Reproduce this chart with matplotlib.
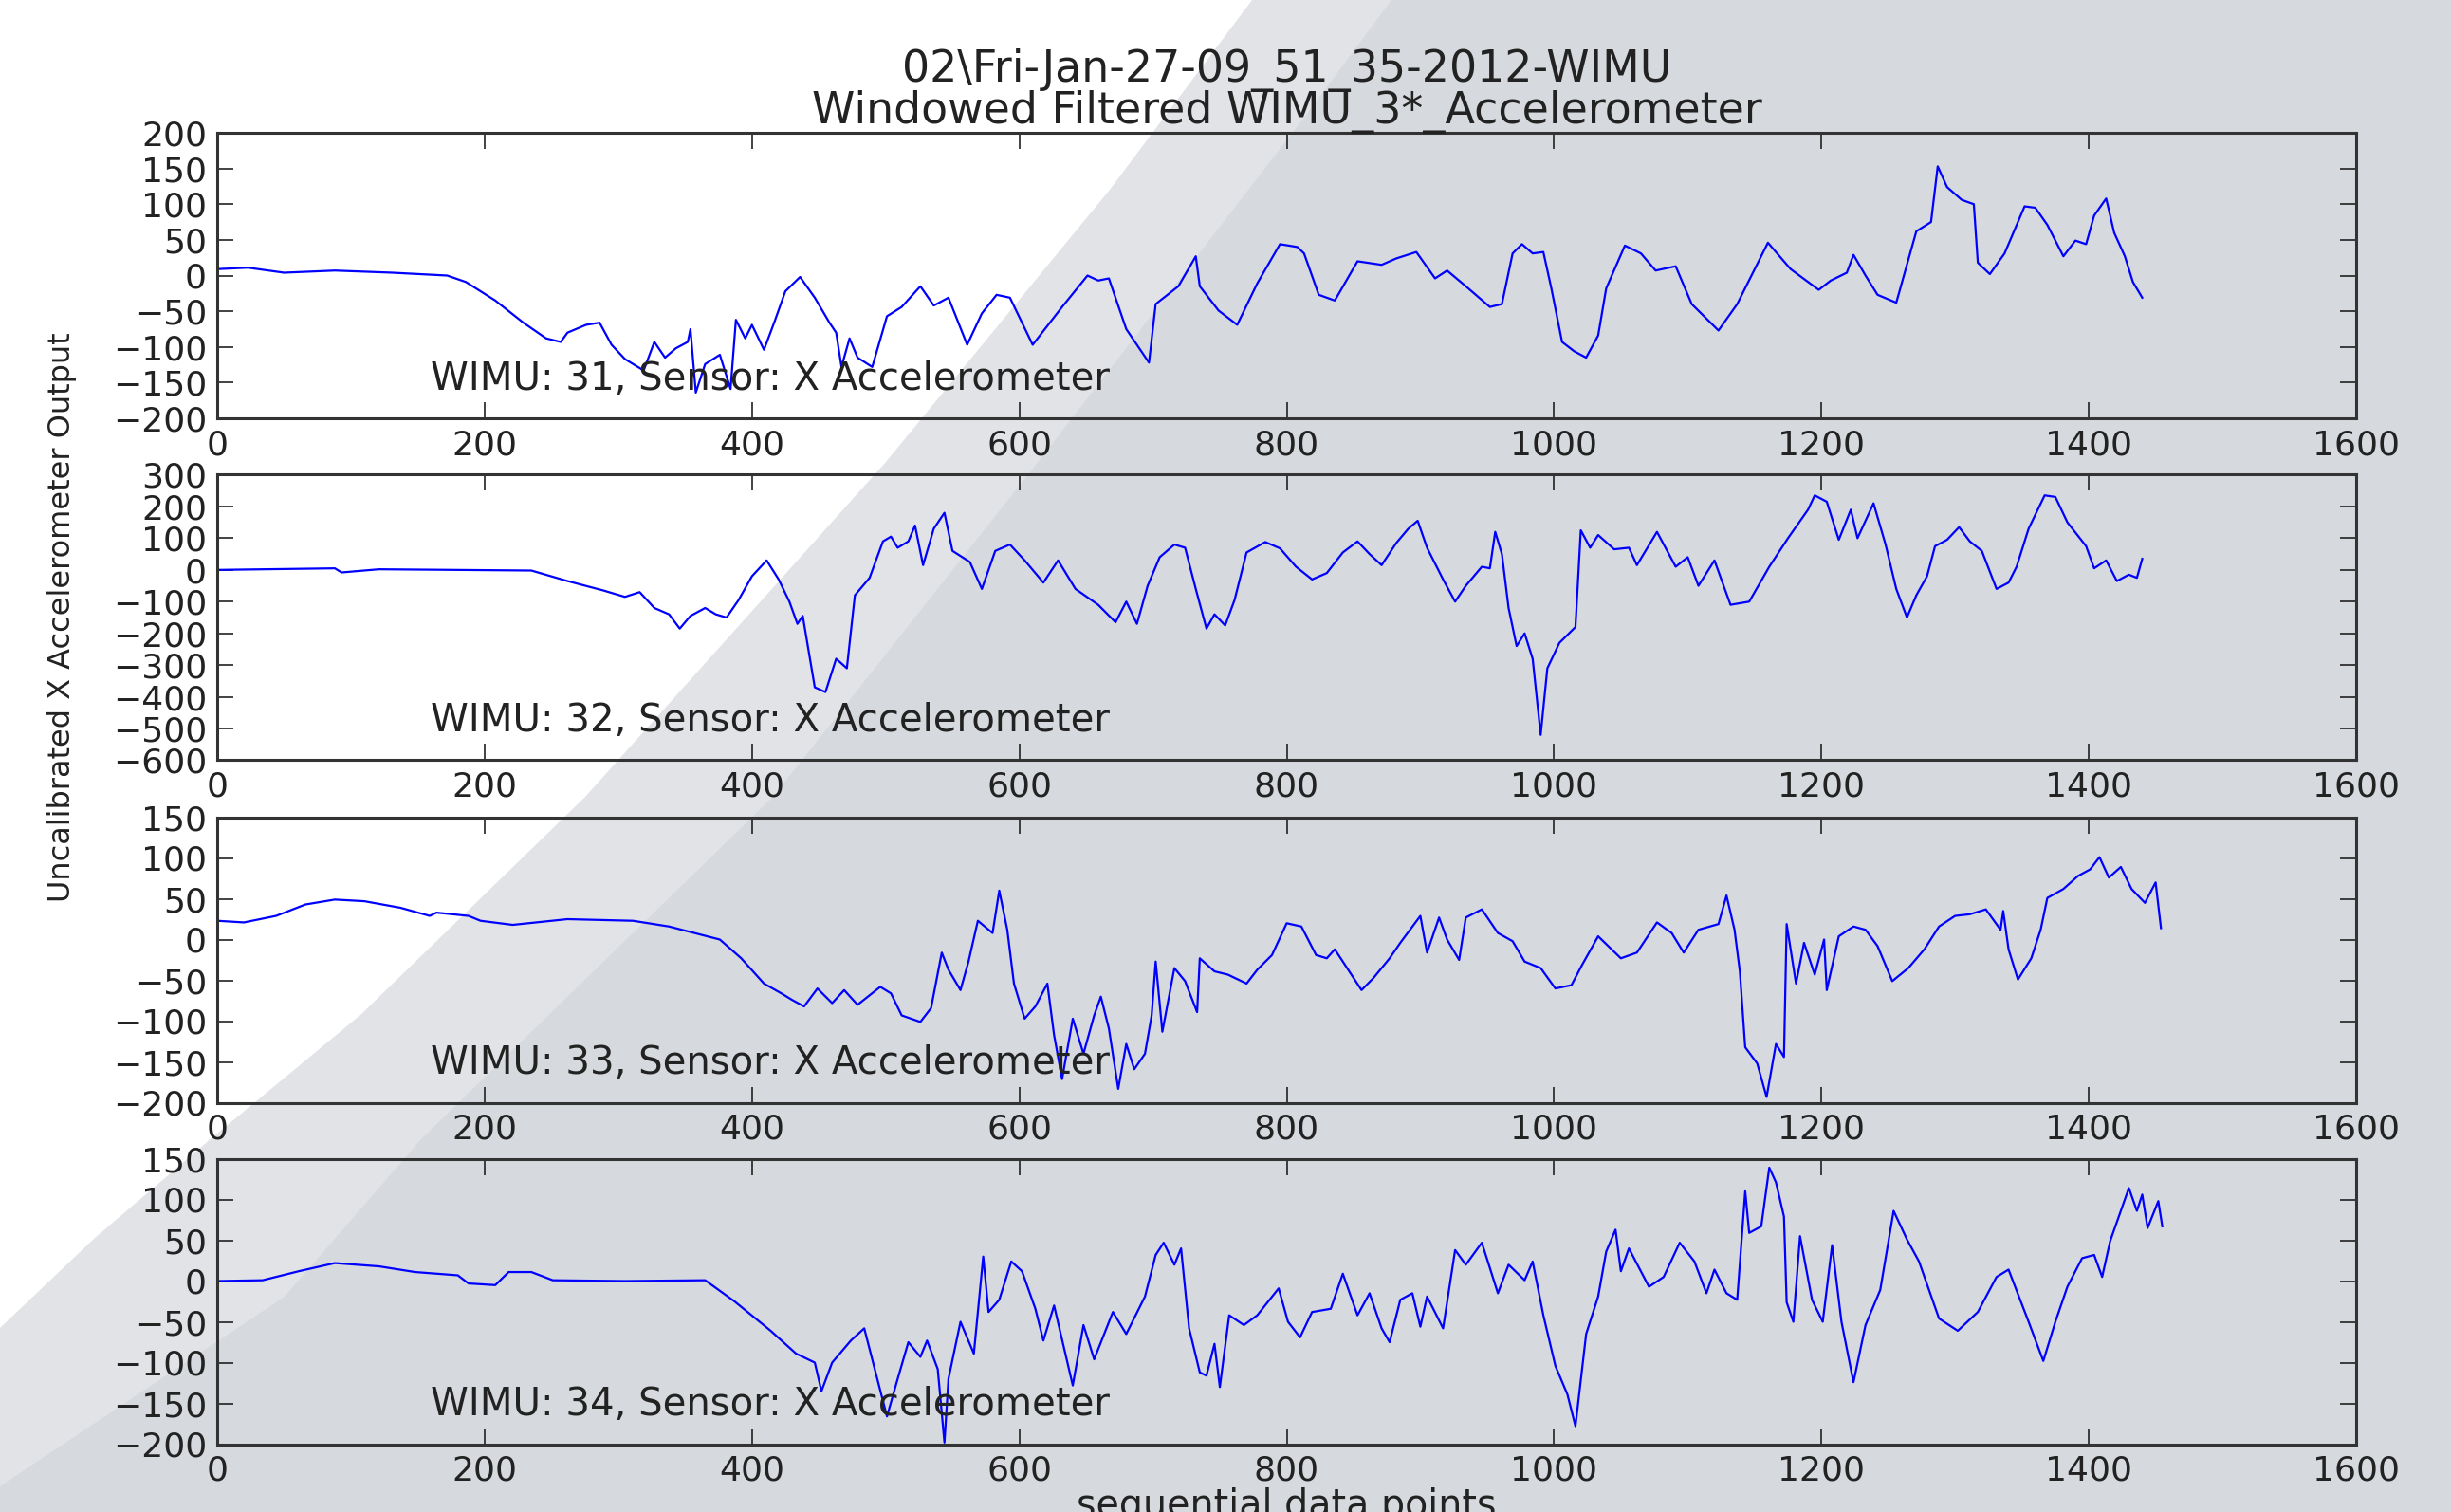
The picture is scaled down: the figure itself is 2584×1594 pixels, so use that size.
import matplotlib
matplotlib.use('Agg')
import matplotlib.pyplot as plt
from matplotlib.patches import Polygon

# ---- data (sequential index, raw value) ----
x31 = [0, 23, 50, 88, 131, 172, 186, 208, 229, 246, 257, 262, 276, 286, 295, 305, 319, 327, 335, 343,
       352, 354, 358, 365, 376, 384, 388, 395, 400, 409, 417, 425, 436, 447, 458, 463, 467, 473, 479, 490,
       501, 512, 526, 536, 547, 561, 572, 583, 593, 610, 632, 651, 659, 667, 680, 697, 702, 719, 732, 735,
       749, 763, 778, 795, 808, 813, 824, 836, 853, 871, 882, 897, 911, 920, 934, 952, 961, 969, 976, 984,
       992, 998, 1006, 1015, 1024, 1033, 1039, 1053, 1065, 1076, 1091, 1103, 1123, 1137, 1160, 1177, 1198,
       1207, 1219, 1224, 1233, 1242, 1256, 1265, 1271, 1282, 1287, 1294, 1305, 1314, 1317, 1326, 1337,
       1352, 1360, 1369, 1381, 1390, 1398, 1404, 1413, 1419, 1427, 1433, 1440]
y31 = [9, 11, 4, 7, 4, 0, -9, -35, -66, -88, -93, -80, -69, -66, -97, -117, -133, -93, -115, -102,
       -93, -75, -164, -124, -111, -159, -62, -88, -69, -104, -64, -22, -2, -31, -66, -80, -128, -88, -115, -128,
       -57, -44, -15, -42, -31, -97, -53, -27, -31, -97, -44, 0, -7, -4, -75, -122, -40, -15, 27, -15,
       -49, -69, -11, 44, 40, 31, -27, -35, 20, 15, 24, 33, -4, 7, -15, -44, -40, 31, 44, 31,
       33, -18, -93, -106, -115, -84, -18, 42, 31, 7, 13, -40, -77, -40, 46, 9, -20,
       -7, 4, 29, 0, -27, -38, 22, 62, 75, 153, 124, 106, 100, 18, 2, 31,
       97, 95, 71, 27, 49, 44, 84, 108, 60, 27, -9, -31]

x32 = [0, 88, 93, 121, 235, 262, 289, 305, 316, 327, 338, 346, 354, 365, 373, 381, 390, 400, 411, 420,
       428, 434, 438, 447, 455, 463, 471, 477, 488, 498, 504, 509, 517, 522, 528, 536, 544, 550, 563, 572,
       582, 593, 604, 618, 629, 642, 659, 672, 680, 688, 696, 705, 716, 724, 732, 740, 746, 754, 761, 770,
       784, 795, 807, 819, 830, 842, 853, 862, 871, 882, 891, 898, 905, 917, 926, 934, 946, 952, 956, 961,
       966, 972, 978, 984, 990, 995, 1004, 1016, 1020, 1027, 1033, 1045, 1056, 1062, 1077, 1091, 1100,
       1108, 1120, 1132, 1146, 1161, 1175, 1190, 1195, 1204, 1213, 1222, 1227, 1239, 1248, 1256, 1264,
       1271, 1279, 1285, 1294, 1303, 1311, 1320, 1331, 1340, 1346, 1355, 1367, 1375, 1384, 1398, 1404,
       1413, 1421, 1430, 1436, 1440]
y32 = [0, 5, -8, 2, -2, -35, -65, -85, -70, -120, -140, -185, -145, -120, -140, -150, -95, -20, 30, -30,
       -100, -170, -145, -370, -385, -280, -310, -80, -25, 90, 105, 70, 90, 140, 15, 130, 180, 60, 25, -60,
       60, 80, 30, -40, 30, -60, -110, -165, -100, -170, -50, 40, 80, 70, -60, -185, -140, -175, -95, 55,
       88, 68, 10, -30, -10, 55, 90, 50, 15, 85, 130, 155, 70, -30, -100, -50, 10, 5, 120, 50,
       -120, -240, -200, -280, -520, -310, -230, -180, 125, 70, 110, 65, 70, 15, 120, 10, 40,
       -50, 30, -110, -100, 10, 100, 190, 235, 215, 95, 190, 100, 210, 80, -60, -150,
       -80, -20, 75, 95, 135, 90, 60, -60, -40, 10, 130, 235, 230, 150, 75, 5,
       30, -35, -15, -25, 35]

x33 = [0, 20, 44, 66, 88, 110, 137, 159, 164, 188, 197, 221, 262, 311, 338, 376, 392, 409, 422, 430,
       439, 449, 460, 469, 479, 496, 504, 512, 526, 534, 542, 547, 556, 562, 569, 580, 585, 591, 596, 604,
       612, 621, 626, 632, 640, 648, 656, 661, 667, 674, 680, 686, 694, 699, 702, 707, 716, 724, 733, 735,
       746, 756, 770, 778, 789, 800, 811, 822, 830, 836, 856, 865, 877, 885, 900, 905, 914, 920, 929, 934,
       946, 958, 969, 978, 990, 1001, 1013, 1021, 1033, 1050, 1062, 1077, 1088, 1097, 1108, 1123, 1129,
       1135, 1139, 1143, 1152, 1159, 1166, 1172, 1174, 1181, 1187, 1195, 1202, 1204, 1213, 1224, 1233,
       1242, 1253, 1265, 1277, 1288, 1300, 1311, 1323, 1334, 1336, 1340, 1347, 1357, 1364, 1369, 1381,
       1392, 1401, 1408, 1415, 1424, 1432, 1442, 1450, 1454]
y33 = [23, 21, 29, 43, 49, 47, 39, 29, 33, 29, 23, 18, 25, 23, 16, 0, -23, -54, -66, -74,
       -82, -60, -78, -62, -80, -58, -66, -93, -101, -84, -16, -37, -62, -27, 23, 8, 60, 12, -54, -97,
       -82, -54, -117, -171, -97, -140, -93, -70, -109, -183, -128, -159, -140, -93, -27, -113, -35, -51, -89, -23,
       -39, -43, -54, -37, -19, 20, 16, -19, -23, -12, -62, -47, -23, -4, 29, -16, 27, 0, -25, 27,
       37, 8, -2, -27, -35, -60, -56, -31, 4, -23, -16, 21, 8, -16, 12, 19, 54,
       12, -39, -132, -152, -193, -128, -144, 19, -54, -4, -43, 0, -62, 4, 16, 12,
       -8, -51, -35, -12, 16, 29, 31, 37, 12, 35, -12, -49, -23, 12, 51, 62,
       78, 86, 101, 76, 89, 62, 45, 70, 14]

x34 = [0, 34, 61, 88, 121, 148, 180, 188, 208, 218, 235, 251, 305, 365, 387, 414, 433, 447, 452, 460,
       474, 484, 490, 501, 509, 517, 526, 531, 539, 544, 547, 556, 566, 573, 577, 585, 594, 602, 612, 618,
       626, 640, 648, 656, 670, 680, 694, 702, 708, 716, 721, 727, 735, 740, 746, 750, 757, 768, 778, 794,
       801, 810, 819, 833, 842, 853, 862, 871, 877, 885, 894, 900, 905, 917, 926, 934, 946, 958, 966, 978,
       984, 992, 1001, 1010, 1016, 1024, 1033, 1039, 1046, 1050, 1056, 1071, 1082, 1094, 1105, 1114, 1120,
       1129, 1137, 1143, 1146, 1155, 1161, 1166, 1172, 1174, 1179, 1184, 1193, 1201, 1208, 1215, 1224,
       1233, 1244, 1254, 1264, 1273, 1288, 1302, 1317, 1331, 1340, 1355, 1366, 1375, 1384, 1395, 1404,
       1410, 1416, 1424, 1430, 1436, 1440, 1444, 1452, 1455]
y34 = [0, 1, 12, 22, 18, 11, 7, -3, -5, 11, 11, 1, 0, 1, -25, -61, -89, -100, -135, -100,
       -73, -58, -96, -166, -120, -75, -93, -73, -108, -198, -120, -50, -89, 30, -38, -23, 24, 12, -34, -73,
       -30, -128, -54, -96, -38, -65, -19, 32, 47, 20, 40, -58, -112, -116, -77, -130, -42, -54, -42, -9,
       -50, -69, -38, -34, 9, -42, -15, -58, -75, -23, -15, -56, -19, -58, 38, 20, 47, -15, 20, 1,
       24, -42, -104, -139, -178, -65, -19, 36, 63, 12, 40, -7, 5, 47, 24, -15, 14,
       -15, -23, 110, 59, 67, 139, 121, 79, -26, -50, 55, -23, -50, 44, -50, -124,
       -54, -11, 86, 51, 24, -46, -61, -38, 5, 14, -50, -98, -50, -7, 28, 32,
       5, 49, 86, 114, 86, 106, 65, 98, 67]

wimu_ids = [31, 32, 33, 34]
series_x = [x31, x32, x33, x34]
series_y = [y31, y32, y33, y34]
y_ticks = [list(range(-200, 201, 50)), list(range(-600, 301, 100)),
           list(range(-200, 151, 50)), list(range(-200, 151, 50))]
x_ticks = list(range(0, 1601, 200))

W, H = 2584, 1594
fig = plt.figure(figsize=(W / 100, H / 100), dpi=100, facecolor='white')


def fpt(px, py):
    # pixel position (from top-left) -> figure fraction
    return (px / W, 1 - py / H)


# background swoosh shapes, kept behind the axes
light_edge = [(1320, 0), (1170, 200), (934, 487), (617, 840), (380, 1070), (223, 1200), (100, 1305), (0, 1400)]
dark_edge = [(1467, 0), (1378, 120), (1100, 480), (815, 840), (445, 1200), (300, 1367), (0, 1567)]
for edge, col in [(light_edge, '#e1e3e6'), (dark_edge, '#d6d9dd')]:
    pts = [fpt(*p) for p in edge] + [fpt(0, H), fpt(W, H), fpt(W, 0)]
    fig.patches.append(Polygon(pts, closed=True, transform=fig.transFigure,
                               facecolor=col, edgecolor='none', zorder=-10))

left, width, height = 229 / W, 2255 / W, 301 / H
tops = [140, 500.5, 861.5, 1221.5]
fs = 26

axes = []
for i, top in enumerate(tops):
    ax = fig.add_axes([left, 1 - (top + 301) / H, width, height])
    ax.set_facecolor('none')
    ax.plot(series_x[i], series_y[i], color='#0000ff', lw=1.6)
    ax.set_xlim(0, 1600)
    ax.set_ylim(y_ticks[i][0], y_ticks[i][-1])
    ax.set_xticks(x_ticks)
    ax.set_yticks(y_ticks[i])
    ax.tick_params(direction='in', top=True, right=True, length=12, width=1.2,
                   labelsize=fs, pad=8, colors='#222222')
    for s in ax.spines.values():
        s.set_linewidth(2.2)
        s.set_color('#333333')
    ax.text(0.1, 0.1, 'WIMU: %d, Sensor: X Accelerometer' % wimu_ids[i],
            transform=ax.transAxes, fontsize=29, color='#222222')
    axes.append(ax)

axes[0].set_title('02\\Fri-Jan-27-09_51_35-2012-WIMU\nWindowed Filtered WIMU_3*_Accelerometer',
                  fontsize=33, color='#222222', pad=7, linespacing=0.95)
axes[3].set_xlabel('sequential data points', fontsize=28.5, color='#222222', labelpad=0)
fig.text(66 / W, 1 - 651 / H, 'Uncalibrated X Accelerometer Output', rotation=90,
         ha='center', va='center', fontsize=23, color='#222222')

fig.savefig('out.png', dpi=100, facecolor='white')
